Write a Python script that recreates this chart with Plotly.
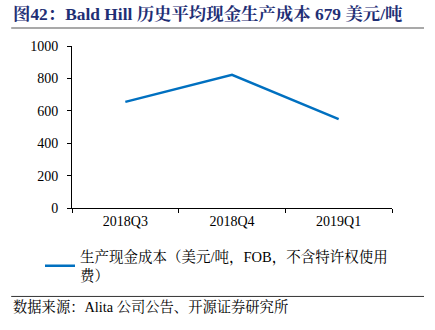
import plotly.graph_objects as go

categories = ["2018Q3", "2018Q4", "2019Q1"]
cost_values = [655, 822, 549]
y_ticks = [0, 200, 400, 600, 800, 1000]
series_name = "生产现金成本（美元/吨，FOB，不含特许权使用<br>费）"
title_text = "图42：Bald Hill 历史平均现金生产成本 679 美元/吨"
source_text = "数据来源：Alita 公司公告、开源证券研究所"

FONT = "Liberation Serif, 'Noto Serif CJK SC', 'Noto Sans CJK SC', serif"

fig = go.Figure()
fig.add_trace(go.Scatter(
    x=categories, y=cost_values, mode="lines", name=series_name,
    line=dict(color="#0070C0", width=2.5),
))

fig.update_layout(
    width=435, height=330,
    margin=dict(l=72, r=43, t=46, b=122),
    paper_bgcolor="white", plot_bgcolor="white",
    font=dict(family=FONT, size=14, color="#000000"),
    showlegend=True,
    legend=dict(x=-0.1, y=-0.2, xanchor="left", yanchor="top",
                font=dict(size=14.5, family=FONT), bgcolor="rgba(0,0,0,0)",
                itemwidth=30, tracegroupgap=0),
    xaxis=dict(type="category", showline=True, linecolor="#000000", linewidth=1,
               ticks="outside", ticklen=4, tickcolor="#000000",
               tickson="boundaries", showgrid=False, zeroline=False,
               range=[-0.5, 2.5], tickfont=dict(size=14)),
    yaxis=dict(range=[0, 1000], tickvals=y_ticks, showline=True, linecolor="#000000",
               linewidth=1, ticks="outside", ticklen=4, tickcolor="#000000",
               showgrid=False, zeroline=False, tickfont=dict(size=14), ticklabelstandoff=6),
    shapes=[
        dict(type="line", xref="paper", yref="paper", x0=-0.19, x1=1.1, y0=1.111, y1=1.111,
             line=dict(color="#555555", width=1.2)),
        dict(type="line", xref="paper", yref="paper", x0=-0.19, x1=1.1, y0=-0.546, y1=-0.546,
             line=dict(color="#333333", width=1)),
    ],
    annotations=[
        dict(text="<b>" + title_text + "</b>", xref="paper", yref="paper",
             x=-0.19, y=1.198, xanchor="left", yanchor="middle", showarrow=False,
             font=dict(size=17.4, color="#1F2F75", family=FONT)),
        dict(text=source_text, xref="paper", yref="paper",
             x=-0.19, y=-0.611, xanchor="left", yanchor="middle", showarrow=False,
             font=dict(size=14.3, color="#000000", family=FONT)),
    ],
)

fig.write_html("out.html")
